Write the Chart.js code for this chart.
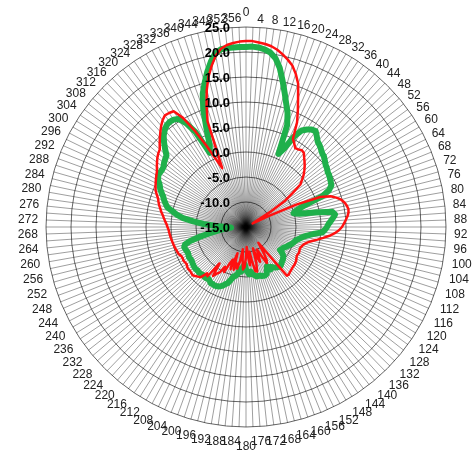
<!DOCTYPE html>
<html><head><meta charset="utf-8">
<script src="https://cdn.jsdelivr.net/npm/chart.js@4.4.0/dist/chart.umd.min.js"></script>
<style>html,body{margin:0;padding:0;background:#fff;}</style>
</head><body>
<canvas id="c" width="474" height="454"></canvas>
<script>
const angles = [
  0,2,4,6,8,10,12,14,16,18, 20,22,24,26,28,30,32,34,36,38,
  40,42,44,46,48,50,52,54,56,58, 60,62,64,66,68,70,72,74,76,78,
  80,82,84,86,88,90,92,94,96,98, 100,102,104,106,108,110,112,114,116,118,
  120,122,124,126,128,130,132,134,136,138, 140,142,144,146,148,150,152,154,156,158,
  160,162,164,166,168,170,172,174,176,178, 180,182,184,186,188,190,192,194,196,198,
  200,202,204,206,208,210,212,214,216,218, 220,222,224,226,228,230,232,234,236,238,
  240,242,244,246,248,250,252,254,256,258, 260,262,264,266,268,270,272,274,276,278,
  280,282,284,286,288,290,292,294,296,298, 300,302,304,306,308,310,312,314,316,318,
  320,322,324,326,328,330,332,334,336,338, 340,342,344,346,348,350,352,354,356,358
];
const tickValues = [-15,-10,-5,0,5,10,15,20,25];

const redGain = [
  22.2,22.2,22.0,21.8,21.5,21.0,20.3,19.5,18.6,17.2,
  15.5,12.8,10.5,8.3,5.0,4.3,3.6,3.7,4.0,3.8,
  3.1,2.5,1.9,1.2,0.5,-0.4,-1.2,-3.5,-5.5,-9,
  -13,-13.5,-10,-4,1,3,4,4.8,5.3,5.6,
  5.8,5.7,5.4,5.0,4.6,4.2,3.6,2.8,1.8,0.6,
  -0.5,-1.5,-2.3,-2.8,-3.1,-3.3,-3.4,-3.3,-3.2,-3.3,
  -3.3,-3.1,-2.9,-2.8,-2.7,-2.7,-2.6,-2.5,-2.4,-2.2,
  -2.3,-11,-10,-8.5,-7.2,-6.7,-8.5,-10,-9,-7.5,
  -8.5,-10.5,-7.5,-5.8,-6,-8,-10,-7.3,-9,-11,
  -9,-7,-6.5,-8.5,-10.5,-8,-6.5,-7.5,-6.1,-9.5,
  -6,-8,-7,-5,-6,-4.5,-4,-3.2,-6,-2.5,
  -2.9,-1.5,-1.2,-0.9,-0.6,-0.7,-0.8,-0.7,-0.8,-1.0,
  -0.9,-0.8,-0.9,-0.8,-0.5,-0.4,-0.3,-0.2,-0.1,0,
  0.1,0.2,0.3,0.4,0.5,0.7,0.9,1.2,1.5,1.8,
  2.2,2.5,2.9,3.2,3.5,4.0,4.5,4.8,5.1,5.4,
  5.7,6.0,6.5,7.0,7.5,7.9,8.2,9.0,9.8,10.6,
  11.4,12.1,12.6,12.5,12.3,10.2,6.8,3.2,0,-2.3,
  7.5,10.5,13.5,16,18,19.8,21,21.6,21.9,22.1
];

const greenGain = [
  21,21.1,21,20.7,20.2,19.2,17.5,15.2,13,11,
  9.3,7,1,2.5,5.5,7.3,8,8.5,8.7,8,
  7.3,7,6.6,6.2,6,5.6,5.2,5,4.7,4.6,
  4.4,4.2,4,3.2,1.5,-2.8,-4.5,-5.1,-4,-1,
  2.5,3,2.5,2,1.5,1.2,0.8,0.3,-1.5,-2.7,
  -3.5,-4,-4.5,-4.8,-5,-5.2,-5.5,-5.8,-6,-6.3,
  -6.5,-6.6,-6.8,-6,-5.5,-5.3,-5.1,-5,-4.8,-4.6,
  -4.6,-4.8,-5,-5.3,-5.6,-5.2,-6.1,-5.5,-4.8,-4.6,
  -4.6,-4.7,-4.9,-4.9,-4.9,-5.2,-5.5,-6,-5.5,-6,
  -6.5,-7.5,-7,-6,-6.5,-5.5,-5,-4.8,-4,-3.2,
  -2.8,-2.3,-2,-1.8,-1.7,-1.8,-1.7,-2,-2.2,-2,
  -2,-2.1,-2,-1.9,-2,-1.9,-1.9,-2,-2.1,-2.2,
  -2.2,-2.1,-2.2,-2.3,-2.2,-2.1,-2,-2.3,-3.5,-5.5,
  -7.5,-9,-10,-11.5,-12,-11,-9,-6.5,-4.4,-2.3,
  -1,0,1.2,1.7,2.2,2.6,3.2,3.8,4.2,4.9,
  5.3,5.4,5.3,5.4,5.8,6.1,6.4,7.5,8.6,9.6,
  10.3,10.8,11,10.9,10.5,9,6.5,1.5,2.8,6,
  10,13,15,17,18.8,20.3,20.9,21,21,21
];

const textPlugin = {
  id: 'polarText',
  afterDraw(chart) {
    const s = chart.scales.r;
    const c = chart.ctx;
    c.save();
    // angle labels, every other spoke
    c.font = '12px "Liberation Sans", Arial, sans-serif';
    c.fillStyle = '#222';
    c.textAlign = 'center';
    c.textBaseline = 'middle';
    angles.forEach((a, i) => {
      if (i % 2 !== 0) return;
      const txt = String(a);
      const w = c.measureText(txt).width;
      const rad = a * Math.PI / 180;
      const cs = Math.cos(rad);
      let d = s.drawingArea + 8 + Math.abs(Math.sin(rad)) * w / 2 + (cs < 0 ? -cs * 7 : 0);
      if (a === 0) d += 6;
      if (a === 180) d += 5;
      const p = s.getPointPosition(i, d);
      c.fillText(txt, p.x, p.y);
    });
    // radial value labels
    c.font = 'bold 13px "Liberation Sans", Arial, sans-serif';
    c.fillStyle = '#000';
    c.textAlign = 'right';
    tickValues.forEach(v => {
      const p = s.getPointPositionForValue(0, v);
      c.fillText(v.toFixed(1), s.xCenter - 16, p.y + 1);
    });
    c.restore();
  }
};

new Chart(document.getElementById('c').getContext('2d'), {
  type: 'radar',
  data: {
    labels: angles.map(String),
    datasets: [
      { label: 'Red', data: redGain, borderColor: '#ff1010', borderWidth: 2.5, pointRadius: 0, fill: false, tension: 0 },
      { label: 'Green', data: greenGain, borderColor: '#1fb04b', borderWidth: 6, pointRadius: 0, fill: false, tension: 0 }
    ]
  },
  options: {
    responsive: false,
    animation: false,
    devicePixelRatio: 1,
    layout: { padding: { left: 46, right: 28, top: 27, bottom: 27 } },
    elements: { line: { borderJoinStyle: 'round' } },
    plugins: { legend: { display: false }, tooltip: { enabled: false } },
    scales: {
      r: {
        min: -15, max: 25,
        ticks: { display: false, stepSize: 5 },
        grid: { circular: true, color: '#666666', lineWidth: 1 },
        angleLines: { color: 'rgba(0,0,0,0.38)', lineWidth: 1 },
        pointLabels: { display: false }
      }
    }
  },
  plugins: [textPlugin]
});
</script>
</body></html>
